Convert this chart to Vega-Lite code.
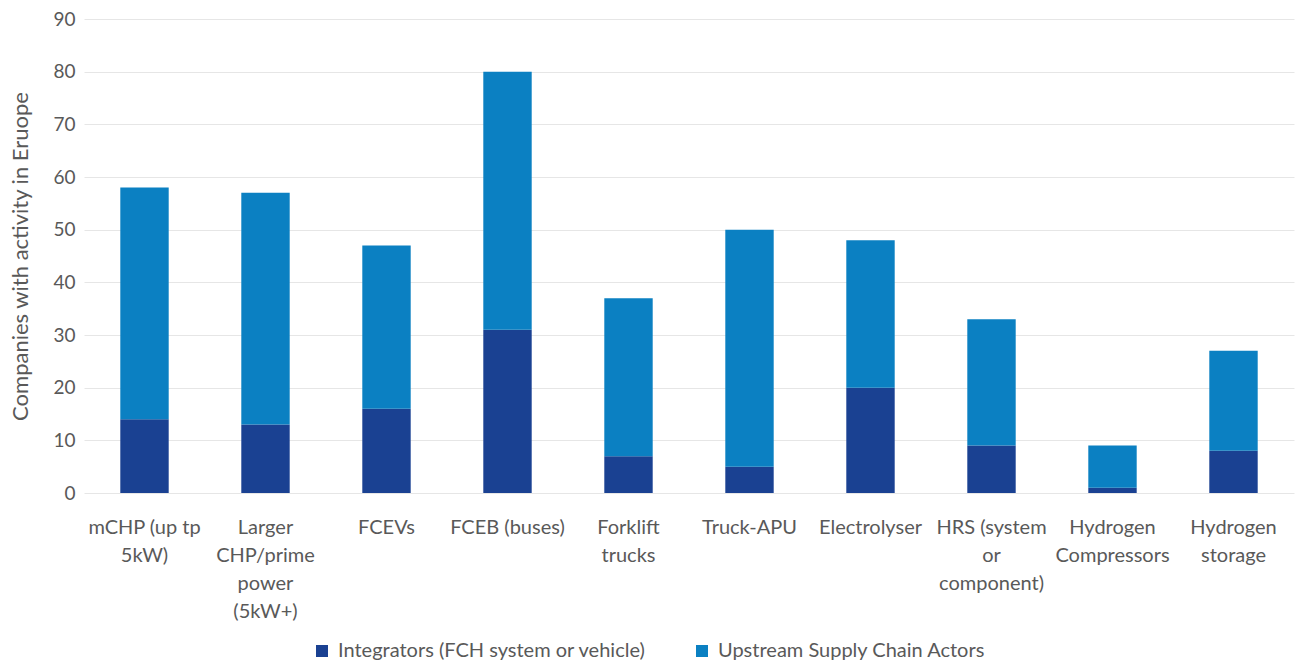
{
  "$schema": "https://vega.github.io/schema/vega-lite/v6.json",
  "autosize": {"type": "none"},
  "padding": {"left": 84, "top": 19, "right": 3, "bottom": 171},
  "width": 1210,
  "height": 474,
  "background": "white",
  "config": {
    "font": "Lato",
    "view": {"stroke": null},
    "axis": {"labelColor": "#595959", "titleColor": "#595959", "labelFontSize": 20, "titleFontSize": 22, "titleFontWeight": "normal"},
    "legend": {"labelColor": "#595959", "labelFontSize": 20}
  },
  "data": {
    "values": [
      {"technology": "mCHP (up tp\n5kW)", "actor": "Integrators (FCH system or vehicle)", "rank": 1, "companies": 14},
      {"technology": "mCHP (up tp\n5kW)", "actor": "Upstream Supply Chain Actors", "rank": 2, "companies": 44},
      {"technology": "Larger\nCHP/prime\npower\n(5kW+)", "actor": "Integrators (FCH system or vehicle)", "rank": 1, "companies": 13},
      {"technology": "Larger\nCHP/prime\npower\n(5kW+)", "actor": "Upstream Supply Chain Actors", "rank": 2, "companies": 44},
      {"technology": "FCEVs", "actor": "Integrators (FCH system or vehicle)", "rank": 1, "companies": 16},
      {"technology": "FCEVs", "actor": "Upstream Supply Chain Actors", "rank": 2, "companies": 31},
      {"technology": "FCEB (buses)", "actor": "Integrators (FCH system or vehicle)", "rank": 1, "companies": 31},
      {"technology": "FCEB (buses)", "actor": "Upstream Supply Chain Actors", "rank": 2, "companies": 49},
      {"technology": "Forklift\ntrucks", "actor": "Integrators (FCH system or vehicle)", "rank": 1, "companies": 7},
      {"technology": "Forklift\ntrucks", "actor": "Upstream Supply Chain Actors", "rank": 2, "companies": 30},
      {"technology": "Truck-APU", "actor": "Integrators (FCH system or vehicle)", "rank": 1, "companies": 5},
      {"technology": "Truck-APU", "actor": "Upstream Supply Chain Actors", "rank": 2, "companies": 45},
      {"technology": "Electrolyser", "actor": "Integrators (FCH system or vehicle)", "rank": 1, "companies": 20},
      {"technology": "Electrolyser", "actor": "Upstream Supply Chain Actors", "rank": 2, "companies": 28},
      {"technology": "HRS (system\nor\ncomponent)", "actor": "Integrators (FCH system or vehicle)", "rank": 1, "companies": 9},
      {"technology": "HRS (system\nor\ncomponent)", "actor": "Upstream Supply Chain Actors", "rank": 2, "companies": 24},
      {"technology": "Hydrogen\nCompressors", "actor": "Integrators (FCH system or vehicle)", "rank": 1, "companies": 1},
      {"technology": "Hydrogen\nCompressors", "actor": "Upstream Supply Chain Actors", "rank": 2, "companies": 8},
      {"technology": "Hydrogen\nstorage", "actor": "Integrators (FCH system or vehicle)", "rank": 1, "companies": 8},
      {"technology": "Hydrogen\nstorage", "actor": "Upstream Supply Chain Actors", "rank": 2, "companies": 19}
    ]
  },
  "mark": {"type": "bar"},
  "encoding": {
    "x": {
      "field": "technology",
      "type": "nominal",
      "sort": null,
      "scale": {"paddingInner": 0.6, "paddingOuter": 0.3},
      "axis": {
        "title": null,
        "labelAngle": 0,
        "labelExpr": "split(datum.value, '\\n')",
        "labelLineHeight": 28,
        "labelPadding": 24,
        "ticks": false,
        "domain": false,
        "grid": false,
        "labelBaseline": "top",
        "labelLimit": 0
      }
    },
    "y": {
      "field": "companies",
      "type": "quantitative",
      "stack": "zero",
      "scale": {"domain": [0, 90]},
      "axis": {
        "title": "Companies with activity in Eruope",
        "labelFontSize": 19,
        "values": [0, 10, 20, 30, 40, 50, 60, 70, 80, 90],
        "ticks": false,
        "domain": false,
        "gridColor": "#e6e6e6",
        "labelPadding": 9,
        "titlePadding": 20
      }
    },
    "color": {
      "field": "actor",
      "type": "nominal",
      "scale": {
        "domain": ["Integrators (FCH system or vehicle)", "Upstream Supply Chain Actors"],
        "range": ["#1a4192", "#0b80c2"]
      },
      "legend": {
        "title": null,
        "orient": "none",
        "direction": "horizontal",
        "legendX": 228,
        "legendY": 622,
        "symbolType": "square",
        "symbolSize": 144,
        "symbolStrokeWidth": 0,
        "labelOffset": 6,
        "labelLimit": 0,
        "columnPadding": 46
      }
    },
    "order": {"field": "rank", "type": "quantitative"}
  }
}
